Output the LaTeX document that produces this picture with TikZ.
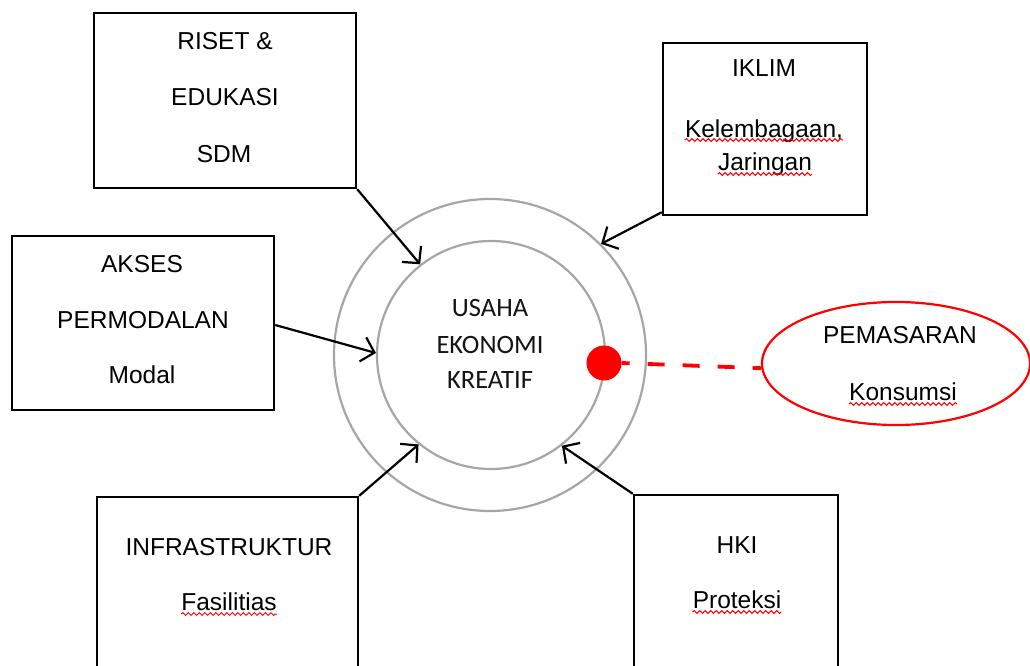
\documentclass[tikz,border=0pt]{standalone}
\usepackage{fontspec}
\setmainfont{Liberation Sans}
\newfontfamily\calfont{Carlito}
\usetikzlibrary{arrows.meta,decorations.pathmorphing,shapes.geometric}
\begin{document}
\begin{tikzpicture}[x=1pt,y=-1pt,
  box/.style={draw=black,line width=2.4pt,rectangle,inner sep=0pt},
  lbl/.style={anchor=base,font=\fontsize{24.5}{28}\selectfont,text=black,inner sep=0pt},
  clbl/.style={anchor=base,font=\calfont\fontsize{26.5}{30}\selectfont,text=black!92,inner sep=0pt},
  ring/.style={draw=black!35,line width=2.2pt,circle,inner sep=0pt},
  arr/.style={draw=black,line width=2.2pt,-{Straight Barb[length=12pt,width=25pt,line width=2.2pt]}},
  wavy/.style={draw=red,line width=1pt,decorate,decoration={snake,segment length=5.5pt,amplitude=1.4pt}}
]
\clip (0,0) rectangle (1030,666);
\fill[white] (0,0) rectangle (1030,666);

% circles
\node[ring,minimum size=312pt] (outer) at (490,355) {};
\node[ring,minimum size=228pt] (inner) at (491,355) {};
\node[clbl] (u1) at (490,316.5) {USAHA};
\node[clbl] (u2) at (490,353.5) {EKONOMI};
\node[clbl] (u3) at (490,388.5) {KREATIF};

% boxes
\node[box,minimum width=262pt,minimum height=175pt] (riset) at (225,100.5) {};
\node[box,minimum width=204pt,minimum height=172pt] (iklim) at (765,129) {};
\node[box,minimum width=262pt,minimum height=174pt] (akses) at (143,323) {};
\node[box,minimum width=261pt,minimum height=203pt] (infra) at (227.5,598.5) {};
\node[box,minimum width=204pt,minimum height=205pt] (hki) at (736,597.5) {};

% box labels
\node[lbl] (r1) at (225,50) {RISET \&};
\node[lbl] (r2) at (225,106) {EDUKASI};
\node[lbl] (r3) at (224,162) {SDM};
\node[lbl] (i1) at (764,77) {IKLIM};
\node[lbl] (i2) at (764,137) {Kelembagaan,};
\node[lbl] (i3) at (765,170) {Jaringan};
\node[lbl] (a1) at (142,272) {AKSES};
\node[lbl] (a2) at (143,328) {PERMODALAN};
\node[lbl] (a3) at (142,383) {Modal};
\node[lbl] (f1) at (229,555) {INFRASTRUKTUR};
\node[lbl] (f2) at (229,610) {Fasilitias};
\node[lbl] (h1) at (737,553) {HKI};
\node[lbl] (h2) at (737,608) {Proteksi};

% marketing ellipse
\node[ellipse,draw=red,line width=2.2pt,minimum width=268pt,minimum height=123pt,inner sep=0pt] (pem) at (896,363.5) {};
\node[lbl] (p1) at (900,343) {PEMASARAN};
\node[lbl] (p2) at (903,400) {Konsumsi};

% spell-check underlines
\draw[wavy] ([yshift=-3pt]i2.base west) -- ([yshift=-3pt]i2.base east);
\draw[wavy] ([yshift=-4pt]i3.base west) -- ([yshift=-4pt]i3.base east);
\draw[wavy] ([yshift=-4pt]f2.base west) -- ([yshift=-4pt]f2.base east);
\draw[wavy] ([yshift=-4pt]h2.base west) -- ([yshift=-4pt]h2.base east);
\draw[wavy] ([yshift=-4pt]p2.base west) -- ([yshift=-4pt]p2.base east);

% red dot and dashed link
\node[circle,fill=red,inner sep=0pt,minimum size=35pt] (dot) at (604,363) {};
\draw[red,line width=3.8pt,dash pattern=on 17pt off 18pt,dash phase=9pt] (dot.east) -- (pem.182);

% arrows
\draw[arr] (riset.south east) -- (inner.128);
\draw[arr] ([yshift=4pt]iklim.south west) -- (outer.45);
\draw[arr] ([yshift=-2pt]akses.east) -- (inner.179);
\draw[arr] (infra.north east) -- (inner.231.5);
\draw[arr] (hki.north west) -- (inner.308.5);
\end{tikzpicture}
\end{document}
